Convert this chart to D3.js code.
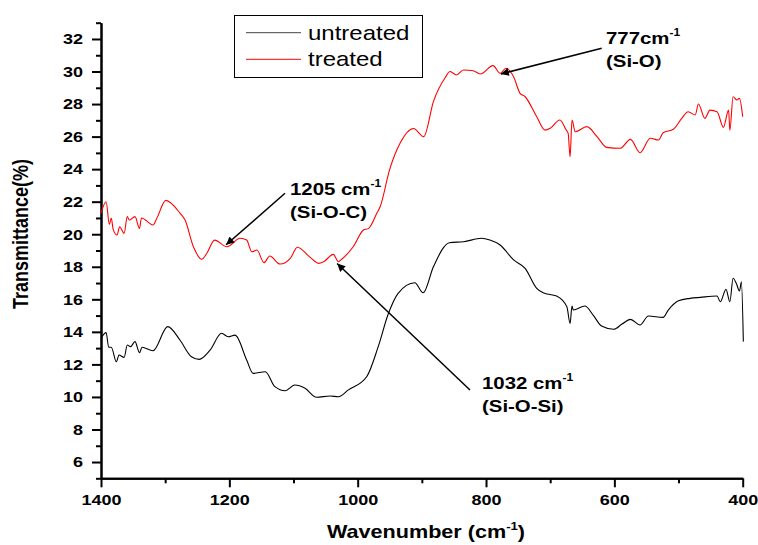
<!DOCTYPE html>
<html>
<head>
<meta charset="utf-8">
<script src="https://cdn.jsdelivr.net/npm/d3@7"></script>
<style>
  body { margin: 0; background: #fff; }
  text { font-family: Arial, "Liberation Sans", sans-serif; }
</style>
</head>
<body>
<div id="chart"></div>
<script>
// Data (wavenumber in cm-1, transmittance in %)
var treatedWn = [1400, 1392, 1387, 1384, 1381, 1375, 1371, 1364, 1359, 1356, 1347, 1340, 1337, 1319, 1313,
  1299, 1277, 1269, 1256, 1243, 1235, 1223, 1204, 1183, 1173, 1165, 1157, 1146, 1137, 1121, 1105, 1094,
  1074, 1061, 1053, 1038, 1030, 1025, 1007, 991, 983, 970, 965, 950, 934, 913, 897, 882, 864, 856, 846,
  835, 820, 809, 789, 778, 769, 757, 747, 739, 721, 708, 700, 685, 675, 672, 669, 666, 661, 643, 627, 612,
  591, 575, 560, 544, 531, 524, 508, 495, 485, 474, 469, 459, 451, 440, 430, 422, 420, 415, 409, 405, 400];
var treatedT = [21.3, 22.0, 20.6, 21.0, 20.3, 19.95, 20.46, 20.05, 21.08, 20.87, 21.08, 20.36, 21.0, 20.57, 20.98,
  22.08, 21.3, 20.87, 19.23, 18.46, 18.83, 19.64, 19.23, 19.75, 19.64, 18.92, 19.03, 18.25, 18.66, 18.17, 18.52, 19.2,
  18.58, 18.21, 18.31, 18.76, 18.31, 18.46, 19.23, 20.26, 20.36, 21.3, 21.69, 24.0, 25.59, 26.5, 26.0, 28.15, 29.6, 30.0, 29.79,
  30.09, 30.05, 29.85, 30.36, 29.89, 30.2, 29.68, 28.66, 28.45, 27.22, 26.4, 26.51, 27.02, 26.4, 26.2, 24.76, 27.02, 26.3, 26.61, 26.0, 25.34,
  25.28, 25.83, 25.01, 25.9, 25.79, 26.24, 26.45, 27.12, 27.53, 27.33, 28.0, 27.12, 27.63, 27.53, 26.57, 27.63, 26.38, 28.45, 28.25, 28.35, 27.22];

var untreatedWn = [1400, 1392, 1388, 1384, 1376, 1372, 1364, 1359, 1354, 1347, 1340, 1336, 1319, 1296, 1277,
  1259, 1247, 1230, 1212, 1202, 1191, 1173, 1163, 1144, 1129, 1113, 1098, 1082, 1064, 1043, 1030, 1015, 986,
  968, 952, 937, 911, 898, 882, 857, 835, 807, 794, 778, 757, 739, 721, 711, 690, 674, 669, 666, 664, 646,
  633, 620, 601, 588, 575, 560, 547, 524, 516, 500, 482, 466, 440, 435, 426, 420, 415, 410, 405, 402, 399];
var untreatedT = [13.6, 13.95, 13.05, 13.05, 12.16, 12.58, 12.43, 13.19, 13.09, 13.4, 12.72, 13.05, 12.84, 14.32, 13.5,
  12.47, 12.31, 12.88, 13.91, 13.7, 13.8, 12.27, 11.45, 11.55, 10.63, 10.38, 10.73, 10.53, 9.98, 10.06, 10.01, 10.42, 11.24,
  13.09, 15.14, 16.37, 17.02, 16.4, 18.0, 19.48, 19.54, 19.75, 19.64, 19.34, 18.42, 17.9, 16.67, 16.4, 16.2, 15.54, 14.52, 15.59, 15.34, 15.59,
  15.03, 14.36, 14.16, 14.48, 14.77, 14.42, 14.97, 14.89, 15.34, 15.91, 16.06, 16.12, 16.2, 15.85, 16.61, 15.85, 17.29, 16.98, 16.51, 17.08, 13.4];

var xMajor = [1400, 1200, 1000, 800, 600, 400];
var xMinor = [1300, 1100, 900, 700, 500];
var yMajor = [6, 8, 10, 12, 14, 16, 18, 20, 22, 24, 26, 28, 30, 32];
var yMinor = [5, 7, 9, 11, 13, 15, 17, 19, 21, 23, 25, 27, 29, 31, 33];

var seriesNames = ["untreated", "treated"];
var seriesColors = ["#000000", "#ff0000"];

var svgWidth = 758;
var svgHeight = 545;
var margin = { top: 22.7, right: 15.3, bottom: 66.7, left: 101 };
var width = svgWidth - margin.left - margin.right;
var height = svgHeight - margin.top - margin.bottom;
var stretch = 1.2; // the original picture is widened a bit

var svg = d3.select("#chart")
  .append("svg")
  .attr("width", svgWidth)
  .attr("height", svgHeight);

var chartGroup = svg.append("g")
  .attr("transform", `translate(${margin.left}, ${margin.top})`);

// Scales
var xScale = d3.scaleLinear().domain([1400, 400]).range([0, width]);
var yScale = d3.scaleLinear().domain([5, 33]).range([height, 0]);

// Axes (major ticks with labels, minor ticks without)
var bottomAxis = d3.axisBottom(xScale).tickValues(xMajor).tickSize(9).tickSizeOuter(0).tickPadding(7).tickFormat(d3.format("d"));
var bottomMinor = d3.axisBottom(xScale).tickValues(xMinor).tickSize(5).tickSizeOuter(0).tickFormat("");
var leftAxis = d3.axisLeft(yScale).tickValues(yMajor).tickSize(9).tickSizeOuter(0).tickPadding(9);
var leftMinor = d3.axisLeft(yScale).tickValues(yMinor).tickSize(5).tickSizeOuter(0).tickFormat("");

function styleAxis(g) {
  g.selectAll("path, line").attr("stroke", "#000").attr("stroke-width", 2);
  g.selectAll("text")
    .attr("fill", "#000")
    .style("font-size", "15px")
    .style("font-weight", "bold")
    .style("font-family", "Arial, 'Liberation Sans', sans-serif")
    .attr("transform", `scale(${stretch},1)`);
}

chartGroup.append("g").attr("transform", `translate(0, ${height})`).call(bottomMinor).call(styleAxis);
chartGroup.append("g").attr("transform", `translate(0, ${height})`).call(bottomAxis).call(styleAxis);
chartGroup.append("g").call(leftMinor).call(styleAxis);
chartGroup.append("g").call(leftAxis).call(styleAxis);
// move the stretched labels back next to their ticks
chartGroup.selectAll("g.tick text").each(function() {
  var t = d3.select(this);
  var x0 = +t.attr("x") || 0;
  t.attr("x", x0 / stretch);
});

// Lines
var lineGen = d3.line()
  .x(d => xScale(d[0]))
  .y(d => yScale(d[1]))
  .curve(d3.curveMonotoneX);

var untreated = untreatedWn.map((w, i) => [w, untreatedT[i]]);
var treated = treatedWn.map((w, i) => [w, treatedT[i]]);

chartGroup.append("path")
  .datum(untreated)
  .attr("d", lineGen)
  .attr("fill", "none")
  .attr("stroke", seriesColors[0])
  .attr("stroke-width", 1.1);

chartGroup.append("path")
  .datum(treated)
  .attr("d", lineGen)
  .attr("fill", "none")
  .attr("stroke", seriesColors[1])
  .attr("stroke-width", 1.1);

// Stretched text helper
function addText(parent, x, y, size, weight, anchor) {
  return parent.append("text")
    .attr("transform", `translate(${x}, ${y}) scale(${stretch},1)`)
    .attr("text-anchor", anchor || "start")
    .style("font-size", size + "px")
    .style("font-weight", weight)
    .attr("fill", "#000");
}

// Axis titles
svg.append("text")
  .attr("transform", `translate(28, 234) rotate(-90) scale(1,${stretch})`)
  .attr("text-anchor", "middle")
  .style("font-size", "18px")
  .style("font-weight", "bold")
  .text("Transmittance(%)");

var xTitle = addText(svg, 426, 538, 18, "bold", "middle");
xTitle.append("tspan").text("Wavenumber (cm");
xTitle.append("tspan").attr("dy", -8).style("font-size", "11px").text("-1");
xTitle.append("tspan").attr("dy", 8).text(")");

// Legend
var legend = svg.append("g");
legend.append("rect")
  .attr("x", 234.5).attr("y", 15.5)
  .attr("width", 188).attr("height", 62)
  .attr("fill", "#fff")
  .attr("stroke", "#000")
  .attr("stroke-width", 1);
seriesNames.forEach(function(name, i) {
  var ly = 32.7 + i * 26.6;
  legend.append("line")
    .attr("x1", 246).attr("x2", 301)
    .attr("y1", ly).attr("y2", ly)
    .attr("stroke", i === 0 ? "#444" : seriesColors[i])
    .attr("stroke-width", 1);
  addText(legend, 308, 40 + i * 26, 20, "normal").text(name);
});

// Annotations with arrows
svg.append("defs").append("marker")
  .attr("id", "arrow")
  .attr("viewBox", "0 0 10 10")
  .attr("refX", 10).attr("refY", 5)
  .attr("markerWidth", 12).attr("markerHeight", 8)
  .attr("markerUnits", "userSpaceOnUse")
  .attr("orient", "auto")
  .append("path")
  .attr("d", "M0,0 L10,5 L0,10 Z")
  .attr("fill", "#000");

var annoLabels = ["777", "1205 ", "1032 "];
var annoGroups = ["(Si-O)", "(Si-O-C)", "(Si-O-Si)"];
var annoPeaks = [777, 1205, 1032];
var annoTextPos = [[606, 44], [290, 195], [482, 389]];
var annoTail = [[601.7, 48.3], [285, 193.3], [470, 390]];
var annoHeadT = [29.85, 19.35, 18.2];

annoPeaks.forEach(function(p, i) {
  var hx = margin.left + xScale(p);
  var hy = margin.top + yScale(annoHeadT[i]);
  svg.append("line")
    .attr("x1", annoTail[i][0]).attr("y1", annoTail[i][1])
    .attr("x2", hx).attr("y2", hy)
    .attr("stroke", "#000")
    .attr("stroke-width", 1.5)
    .attr("marker-end", "url(#arrow)");
  var t = addText(svg, annoTextPos[i][0], annoTextPos[i][1], 17, "bold");
  t.append("tspan").text(annoLabels[i] + "cm");
  t.append("tspan").attr("dy", -8).style("font-size", "10px").text("-1");
  addText(svg, annoTextPos[i][0], annoTextPos[i][1] + 23, 17, "bold").text(annoGroups[i]);
});
</script>
</body>
</html>
